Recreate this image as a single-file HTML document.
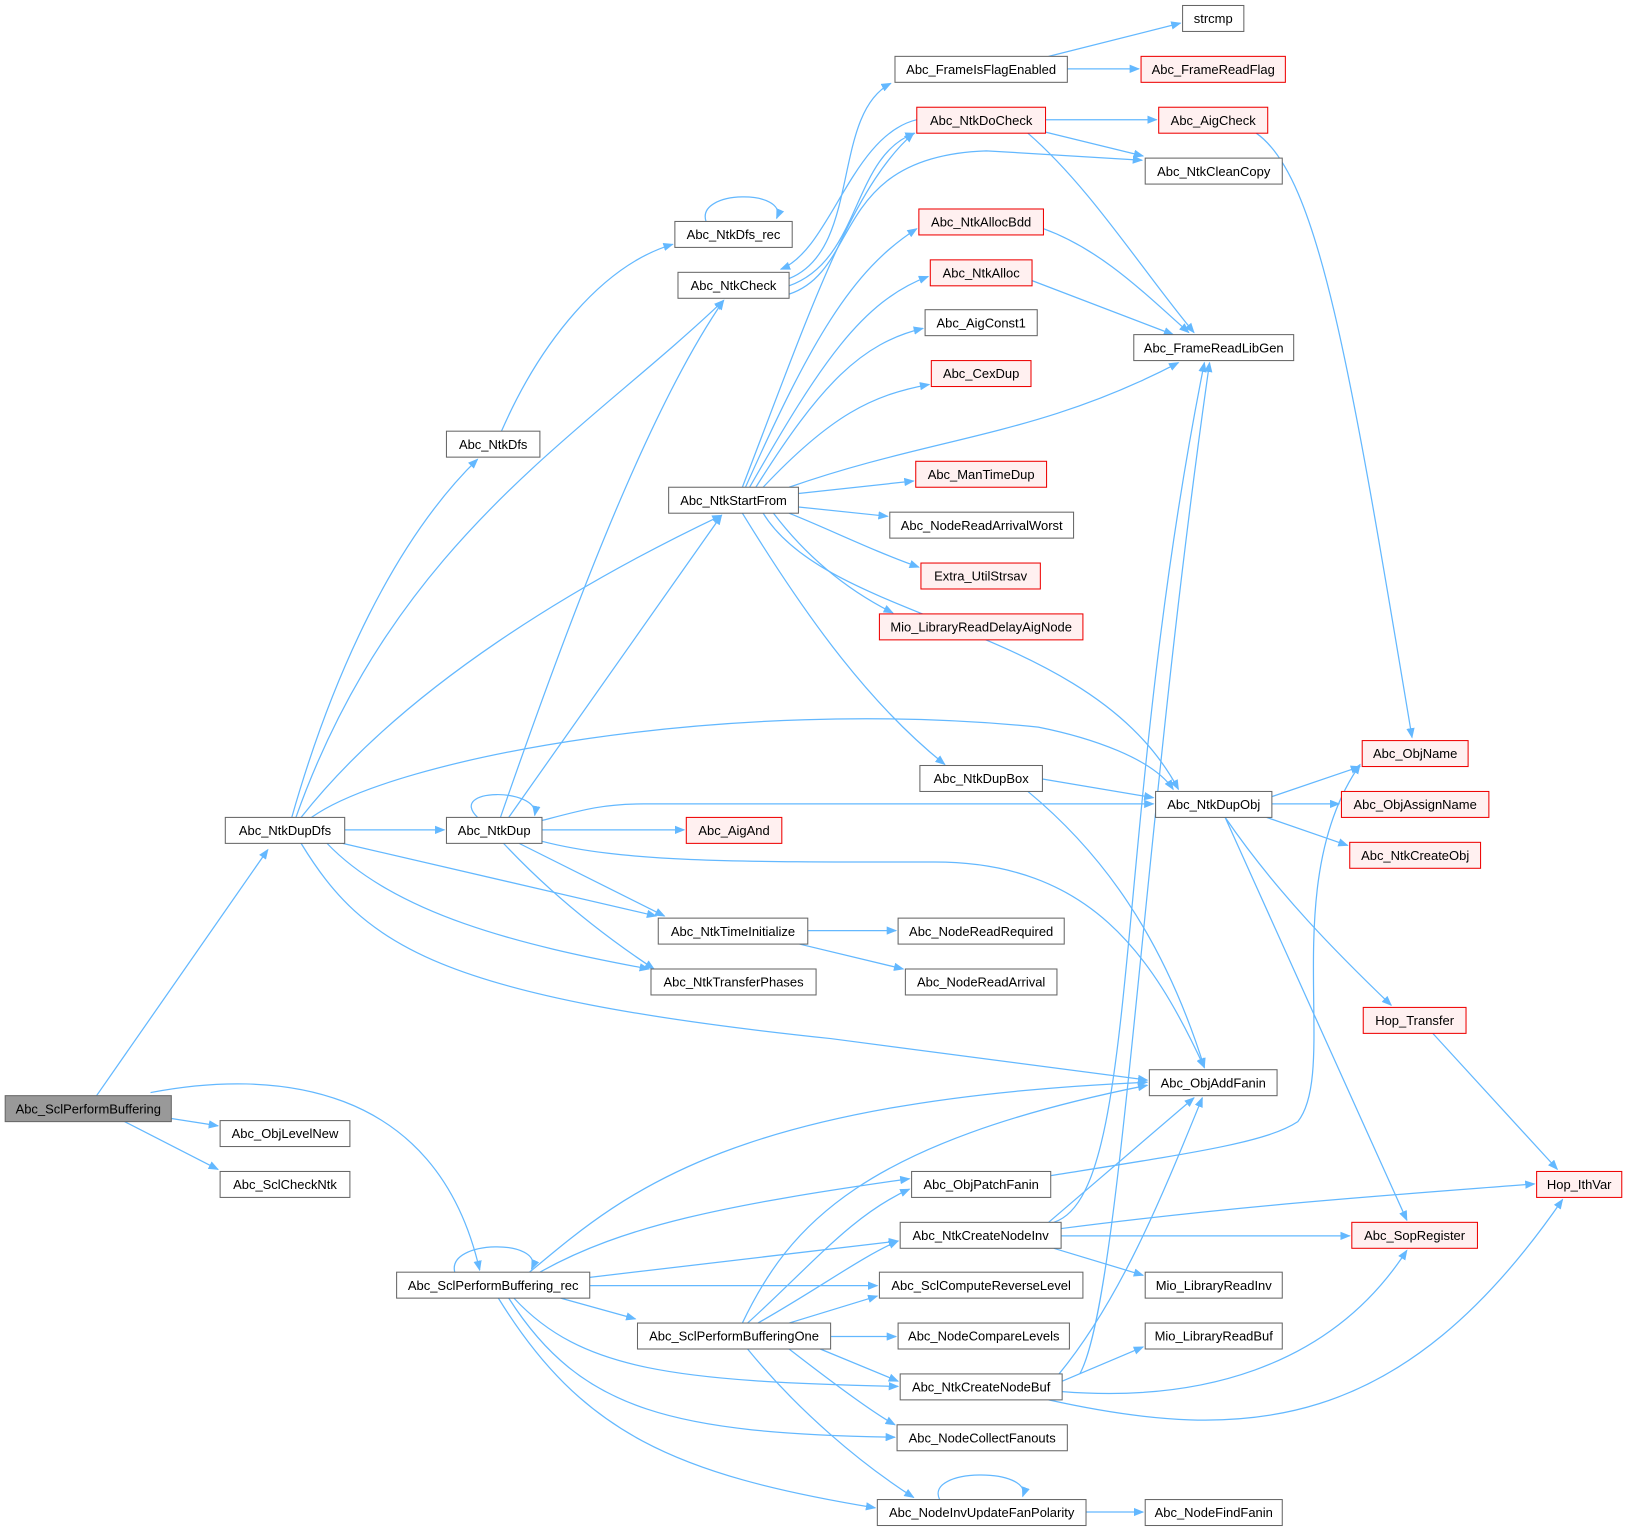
<!DOCTYPE html>
<html><head><meta charset="utf-8"><style>
html,body{margin:0;padding:0;background:#fff;}
svg{display:block;}
text{font-family:"Liberation Sans",Arial,sans-serif;font-size:12.5px;fill:#000;}
.e{fill:none;stroke:#63b8ff;stroke-width:1.2;marker-end:url(#a);}
.n{fill:#fff;stroke:#666;stroke-width:1;}
.r{fill:#fff0f0;stroke:#e00;stroke-width:1;}
.g{fill:#999;stroke:#666;stroke-width:1;}
</style></head><body>
<svg width="1628" height="1531" viewBox="0 0 1568 1474" xmlns="http://www.w3.org/2000/svg">
<defs><marker id="a" markerWidth="10" markerHeight="8" refX="9" refY="4" orient="auto" markerUnits="userSpaceOnUse"><path d="M0,0 L10,4 L0,8 z" fill="#63b8ff"/></marker></defs>
<g>
<path class="e" d="M93,1055 L258,818"/>
<path class="e" d="M165,1077 L210,1084"/>
<path class="e" d="M120,1080 L210,1126"/>
<path class="e" d="M145,1052 C260,1030 420,1040 462,1223"/>
<path class="e" d="M281,787 C320,650 380,520 460,442"/>
<path class="e" d="M285,787 C380,520 560,420 697,289"/>
<path class="e" d="M290,787 C390,660 560,560 695,496"/>
<path class="e" d="M300,787 C380,730 700,670 1000,700 C1050,710 1110,730 1130,760"/>
<path class="e" d="M332,799 L428,799"/>
<path class="e" d="M330,812 L632,882"/>
<path class="e" d="M315,812 C380,880 500,910 625,933"/>
<path class="e" d="M290,812 C350,910 420,960 800,1000 L1105,1040"/>
<path class="e" d="M483,415 C520,330 580,255 648,235"/>
<path class="e" d="M680,213 C670,182 760,182 748,210"/>
<path class="e" d="M760,268 C830,240 800,110 858,80"/>
<path class="e" d="M760,275 C830,250 820,150 881,128"/>
<path class="e" d="M760,283 C830,260 800,150 950,145 L1100,154"/>
<path class="e" d="M883,115 C820,130 800,240 752,259"/>
<path class="e" d="M715,469 C780,300 820,180 880,128"/>
<path class="e" d="M718,469 C780,330 820,260 883,220"/>
<path class="e" d="M722,469 C790,350 830,290 894,266"/>
<path class="e" d="M728,469 C790,370 830,330 889,316"/>
<path class="e" d="M735,469 C800,400 840,380 895,370"/>
<path class="e" d="M760,469 C900,420 1000,420 1135,349"/>
<path class="e" d="M769,475 L880,463"/>
<path class="e" d="M769,488 L855,497"/>
<path class="e" d="M760,494 C800,510 840,530 885,546"/>
<path class="e" d="M745,494 C780,540 820,570 860,590"/>
<path class="e" d="M735,494 C800,600 1050,600 1135,760"/>
<path class="e" d="M715,494 C780,600 840,680 910,736"/>
<path class="e" d="M1010,54 L1137,22"/>
<path class="e" d="M1028,66 L1097,66"/>
<path class="e" d="M1007,115 L1114,115"/>
<path class="e" d="M1007,127 L1101,150"/>
<path class="e" d="M990,128 C1050,180 1100,260 1150,320"/>
<path class="e" d="M1005,220 C1060,240 1100,280 1145,320"/>
<path class="e" d="M994,270 L1130,322"/>
<path class="e" d="M1210,128 C1270,170 1300,350 1360,710"/>
<path class="e" d="M1004,750 L1111,768"/>
<path class="e" d="M990,762 C1060,820 1120,900 1160,1028"/>
<path class="e" d="M1225,767 L1310,738"/>
<path class="e" d="M1225,774 L1290,774"/>
<path class="e" d="M1220,787 L1298,814"/>
<path class="e" d="M1180,787 C1230,860 1290,920 1340,968"/>
<path class="e" d="M1180,787 L1355,1175"/>
<path class="e" d="M460,787 C430,758 520,758 515,785"/>
<path class="e" d="M482,787 C540,620 620,400 697,289"/>
<path class="e" d="M490,787 L695,496"/>
<path class="e" d="M522,790 C560,780 580,774 620,774 L1111,774"/>
<path class="e" d="M522,799 L659,799"/>
<path class="e" d="M500,812 L640,882"/>
<path class="e" d="M485,812 C530,860 580,900 630,933"/>
<path class="e" d="M522,810 C600,830 700,830 900,830 C1050,830 1110,920 1160,1028"/>
<path class="e" d="M778,896 L863,896"/>
<path class="e" d="M770,909 L870,933"/>
<path class="e" d="M1380,995 L1500,1126"/>
<path class="e" d="M438,1225 C430,1193 525,1193 512,1222"/>
<path class="e" d="M510,1225 C600,1150 700,1060 1105,1042"/>
<path class="e" d="M520,1225 C600,1180 700,1160 876,1135"/>
<path class="e" d="M568,1230 L865,1195"/>
<path class="e" d="M568,1238 L845,1238"/>
<path class="e" d="M540,1250 L612,1270"/>
<path class="e" d="M495,1250 C560,1320 650,1330 865,1335"/>
<path class="e" d="M490,1250 C560,1360 650,1380 862,1384"/>
<path class="e" d="M480,1250 C560,1380 650,1420 843,1452"/>
<path class="e" d="M1012,1132 C1150,1110 1220,1100 1250,1080 C1290,1030 1230,850 1310,736"/>
<path class="e" d="M1015,1177 C1100,1150 1070,800 1160,349"/>
<path class="e" d="M1010,1177 L1150,1057"/>
<path class="e" d="M1022,1183 C1200,1160 1350,1150 1478,1140"/>
<path class="e" d="M1022,1190 L1300,1190"/>
<path class="e" d="M1015,1202 L1101,1228"/>
<path class="e" d="M715,1274 C760,1180 830,1100 1105,1045"/>
<path class="e" d="M720,1274 C780,1220 820,1170 876,1145"/>
<path class="e" d="M730,1274 C790,1240 830,1210 865,1195"/>
<path class="e" d="M760,1274 L845,1248"/>
<path class="e" d="M800,1287 L863,1287"/>
<path class="e" d="M790,1299 L865,1330"/>
<path class="e" d="M760,1299 C800,1330 840,1360 862,1372"/>
<path class="e" d="M720,1299 C770,1360 830,1410 880,1442"/>
<path class="e" d="M1040,1323 C1080,1250 1100,800 1165,349"/>
<path class="e" d="M1020,1323 C1080,1250 1120,1150 1158,1057"/>
<path class="e" d="M1023,1330 L1101,1297"/>
<path class="e" d="M1023,1340 C1150,1350 1280,1320 1355,1204"/>
<path class="e" d="M1010,1348 C1200,1390 1350,1380 1505,1155"/>
<path class="e" d="M905,1444 C890,1413 995,1413 985,1441"/>
<path class="e" d="M1046,1456 L1101,1456"/>
</g>
<g>
<rect class="g" x="5" y="1055" width="160" height="25"/><text x="85" y="1072" text-anchor="middle">Abc_SclPerformBuffering</text>
<rect class="n" x="212" y="1079" width="125" height="25"/><text x="274.5" y="1096" text-anchor="middle">Abc_ObjLevelNew</text>
<rect class="n" x="212" y="1128" width="125" height="25"/><text x="274.5" y="1145" text-anchor="middle">Abc_SclCheckNtk</text>
<rect class="n" x="217" y="787" width="115" height="25"/><text x="274.5" y="804" text-anchor="middle">Abc_NtkDupDfs</text>
<rect class="n" x="430" y="415" width="90" height="25"/><text x="475" y="432" text-anchor="middle">Abc_NtkDfs</text>
<rect class="n" x="650" y="213" width="113" height="25"/><text x="706.5" y="230" text-anchor="middle">Abc_NtkDfs_rec</text>
<rect class="n" x="653" y="262" width="107" height="25"/><text x="706.5" y="279" text-anchor="middle">Abc_NtkCheck</text>
<rect class="n" x="644" y="469" width="125" height="25"/><text x="706.5" y="486" text-anchor="middle">Abc_NtkStartFrom</text>
<rect class="n" x="430" y="787" width="92" height="25"/><text x="476" y="804" text-anchor="middle">Abc_NtkDup</text>
<rect class="r" x="661" y="787" width="92" height="25"/><text x="707" y="804" text-anchor="middle">Abc_AigAnd</text>
<rect class="n" x="634" y="884" width="144" height="25"/><text x="706" y="901" text-anchor="middle">Abc_NtkTimeInitialize</text>
<rect class="n" x="627" y="933" width="159" height="25"/><text x="706.5" y="950" text-anchor="middle">Abc_NtkTransferPhases</text>
<rect class="n" x="862" y="54" width="166" height="25"/><text x="945" y="71" text-anchor="middle">Abc_FrameIsFlagEnabled</text>
<rect class="n" x="1139" y="5" width="59" height="25"/><text x="1168.5" y="22" text-anchor="middle">strcmp</text>
<rect class="r" x="1099" y="54" width="139" height="25"/><text x="1168.5" y="71" text-anchor="middle">Abc_FrameReadFlag</text>
<rect class="r" x="883" y="103" width="124" height="25"/><text x="945" y="120" text-anchor="middle">Abc_NtkDoCheck</text>
<rect class="r" x="1116" y="103" width="105" height="25"/><text x="1168.5" y="120" text-anchor="middle">Abc_AigCheck</text>
<rect class="n" x="1103" y="152" width="132" height="25"/><text x="1169" y="169" text-anchor="middle">Abc_NtkCleanCopy</text>
<rect class="r" x="885" y="201" width="120" height="25"/><text x="945" y="218" text-anchor="middle">Abc_NtkAllocBdd</text>
<rect class="r" x="896" y="250" width="98" height="25"/><text x="945" y="267" text-anchor="middle">Abc_NtkAlloc</text>
<rect class="n" x="891" y="298" width="108" height="25"/><text x="945" y="315" text-anchor="middle">Abc_AigConst1</text>
<rect class="n" x="1092" y="322" width="154" height="25"/><text x="1169" y="339" text-anchor="middle">Abc_FrameReadLibGen</text>
<rect class="r" x="897" y="347" width="96" height="25"/><text x="945" y="364" text-anchor="middle">Abc_CexDup</text>
<rect class="r" x="882" y="444" width="126" height="25"/><text x="945" y="461" text-anchor="middle">Abc_ManTimeDup</text>
<rect class="n" x="857" y="493" width="177" height="25"/><text x="945.5" y="510" text-anchor="middle">Abc_NodeReadArrivalWorst</text>
<rect class="r" x="887" y="542" width="115" height="25"/><text x="944.5" y="559" text-anchor="middle">Extra_UtilStrsav</text>
<rect class="r" x="847" y="591" width="196" height="25"/><text x="945" y="608" text-anchor="middle">Mio_LibraryReadDelayAigNode</text>
<rect class="n" x="886" y="737" width="118" height="25"/><text x="945" y="754" text-anchor="middle">Abc_NtkDupBox</text>
<rect class="n" x="1113" y="762" width="112" height="25"/><text x="1169" y="779" text-anchor="middle">Abc_NtkDupObj</text>
<rect class="r" x="1312" y="713" width="102" height="25"/><text x="1363" y="730" text-anchor="middle">Abc_ObjName</text>
<rect class="r" x="1292" y="762" width="142" height="25"/><text x="1363" y="779" text-anchor="middle">Abc_ObjAssignName</text>
<rect class="r" x="1300" y="811" width="126" height="25"/><text x="1363" y="828" text-anchor="middle">Abc_NtkCreateObj</text>
<rect class="n" x="865" y="884" width="160" height="25"/><text x="945" y="901" text-anchor="middle">Abc_NodeReadRequired</text>
<rect class="n" x="872" y="933" width="146" height="25"/><text x="945" y="950" text-anchor="middle">Abc_NodeReadArrival</text>
<rect class="r" x="1313" y="970" width="99" height="25"/><text x="1362.5" y="987" text-anchor="middle">Hop_Transfer</text>
<rect class="n" x="1107" y="1030" width="123" height="25"/><text x="1168.5" y="1047" text-anchor="middle">Abc_ObjAddFanin</text>
<rect class="r" x="1480" y="1128" width="82" height="25"/><text x="1521" y="1145" text-anchor="middle">Hop_IthVar</text>
<rect class="r" x="1302" y="1177" width="121" height="25"/><text x="1362.5" y="1194" text-anchor="middle">Abc_SopRegister</text>
<rect class="n" x="382" y="1225" width="186" height="25"/><text x="475" y="1242" text-anchor="middle">Abc_SclPerformBuffering_rec</text>
<rect class="n" x="878" y="1128" width="134" height="25"/><text x="945" y="1145" text-anchor="middle">Abc_ObjPatchFanin</text>
<rect class="n" x="867" y="1177" width="155" height="25"/><text x="944.5" y="1194" text-anchor="middle">Abc_NtkCreateNodeInv</text>
<rect class="n" x="847" y="1225" width="196" height="25"/><text x="945" y="1242" text-anchor="middle">Abc_SclComputeReverseLevel</text>
<rect class="n" x="1103" y="1225" width="132" height="25"/><text x="1169" y="1242" text-anchor="middle">Mio_LibraryReadInv</text>
<rect class="n" x="614" y="1274" width="186" height="25"/><text x="707" y="1291" text-anchor="middle">Abc_SclPerformBufferingOne</text>
<rect class="n" x="865" y="1274" width="165" height="25"/><text x="947.5" y="1291" text-anchor="middle">Abc_NodeCompareLevels</text>
<rect class="n" x="1103" y="1274" width="132" height="25"/><text x="1169" y="1291" text-anchor="middle">Mio_LibraryReadBuf</text>
<rect class="n" x="867" y="1323" width="156" height="25"/><text x="945" y="1340" text-anchor="middle">Abc_NtkCreateNodeBuf</text>
<rect class="n" x="864" y="1372" width="164" height="25"/><text x="946" y="1389" text-anchor="middle">Abc_NodeCollectFanouts</text>
<rect class="n" x="845" y="1444" width="201" height="25"/><text x="945.5" y="1461" text-anchor="middle">Abc_NodeInvUpdateFanPolarity</text>
<rect class="n" x="1103" y="1444" width="132" height="25"/><text x="1169" y="1461" text-anchor="middle">Abc_NodeFindFanin</text>
</g>
</svg>
</body></html>
